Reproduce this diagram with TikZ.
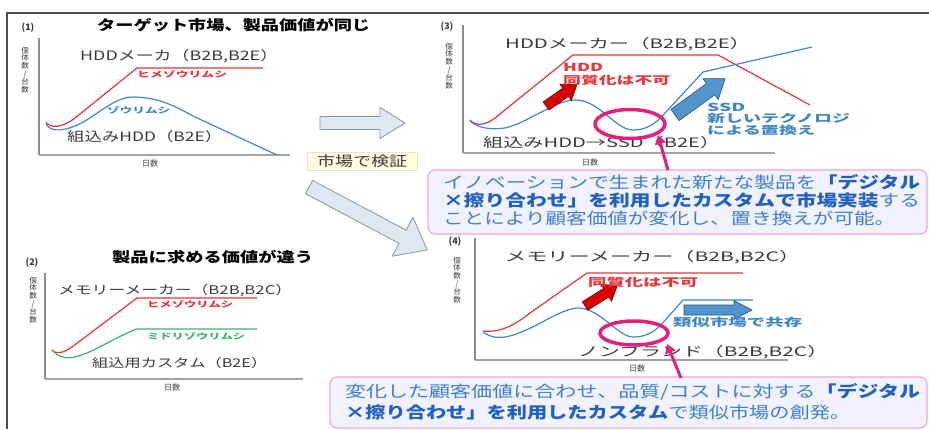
\documentclass[tikz,border=0pt]{standalone}
\usepackage{fontspec}
\setmainfont{Noto Sans CJK JP}
\usetikzlibrary{shapes.geometric,arrows.meta}
\definecolor{cred}{HTML}{E5353A}
\definecolor{cblue}{HTML}{3F88C8}
\definecolor{cgreen}{HTML}{3DB46E}
\definecolor{cpink}{HTML}{E6207A}
\definecolor{cpinkb}{HTML}{F2A8CB}
\definecolor{ctxt}{HTML}{3A3A3A}
\definecolor{caxis}{HTML}{8C8C8C}
\definecolor{cbtxt}{HTML}{3C7FD6}
\definecolor{cbbold}{HTML}{1E60C4}
\definecolor{cgarrow}{HTML}{DFE7F0}
\definecolor{cgarrowb}{HTML}{8995A2}
\newcommand{\fw}[2]{\resizebox{#1pt}{\height}{#2}}
\newcommand{\blockarr}[8]{%
\begin{scope}[shift={(#2,#3)},rotate=#4]
\draw[#1] (0,-#6) -- ({#5-#8},-#6) -- ({#5-#8},-#7) -- (#5,0) -- ({#5-#8},#7) -- ({#5-#8},#6) -- (0,#6) -- cycle;
\end{scope}}
\tikzset{
  lbl/.style={inner sep=0pt, anchor=west, text=ctxt, font=\fontsize{13}{14}\selectfont},
  ttl/.style={inner sep=0pt, anchor=west, text=black, font=\fontsize{14}{15}\selectfont\bfseries},
  num/.style={inner sep=0pt, text=ctxt, font=\fontsize{9}{10}\selectfont\bfseries},
  vl/.style={inner sep=0pt, text=ctxt, align=center, font=\fontsize{7.5}{7.6}\selectfont},
  days/.style={inner sep=0pt, text=ctxt, font=\fontsize{8}{9}\selectfont},
  small/.style={inner sep=0pt, anchor=west, font=\fontsize{8}{9}\selectfont\bfseries},
  mid/.style={inner sep=0pt, anchor=west, font=\fontsize{11}{12}\selectfont\bfseries},
  callt/.style={inner sep=0pt, anchor=west, text=cbtxt, font=\fontsize{16}{17}\selectfont},
  yaxis/.style={draw=caxis, line width=1.8pt},
  xaxis/.style={draw=caxis!80, line width=1.2pt},
  redc/.style={draw=cred, line width=1.2pt},
  bluec/.style={draw=cblue, line width=1.2pt},
  greenc/.style={draw=cgreen, line width=1.2pt},
  garr/.style={fill=cgarrow, draw=cgarrowb, line width=0.8pt},
  rarr/.style={fill=red!85!black, draw=red!45!black, line width=0.6pt},
  barr/.style={fill=cblue!90!white, draw=cblue!60!black, line width=0.6pt},
  ring/.style={ellipse, draw=cpink, line width=3.5pt, inner sep=0pt},
  parr/.style={draw=cpink, line width=3pt, -{Triangle[length=9pt,width=11pt]}},
  callbox/.style={draw=cpinkb, line width=1.2pt, fill=white!95!blue, rounded corners=7pt, inner sep=0pt}
}
\begin{document}
\begin{tikzpicture}[x=1pt,y=-1pt]
\useasboundingbox (0,0) rectangle (929,429);
% frame
\draw[draw=ctxt!90, line width=1.4pt] (7,429) -- (7,13) -- (929,13);

% ===== Panel (1)
\node[num] (n1) at (28,28) {(1)};
\node[ttl] (t1) at (97,25) {\fw{273}{ターゲット市場、製品価値が同じ}};
\node[vl] (v1) at (25,70) {個\\体\\数\\/\\台\\数};
\draw[yaxis] (39,38) -- (39,155);
\draw[xaxis] (39,155) -- (290,155);
\node[days] (d1) at (150,163) {日数};
\node[lbl] (h1) at (80,56) {\fw{198}{HDDメーカ（B2B,B2E）}};
\draw[redc] (46,122) .. controls (50,128) and (60,129) .. (75,118) -- (137,68) -- (263,68);
\draw[bluec] (46,124) .. controls (50,131) and (60,132) .. (75,126) .. controls (95,118) and (113,97) .. (133,97) .. controls (160,97) and (178,108) .. (195,117) -- (277,155);
\node[small, text=cred] (r1) at (137,74) {\fw{90}{ヒメゾウリムシ}};
\node[small, text=cblue] (b1) at (107,110) {\fw{63}{ゾウリムシ}};
\node[lbl] (e1) at (67,137) {\fw{155}{組込みHDD（B2E）}};

% arrow (1)->(3)
\blockarr{garr}{320}{123}{0}{85}{6.5}{15.5}{25}
\node[fill=yellow!12, draw=yellow!30!gray!30, line width=0.4pt, minimum width=110pt, minimum height=18pt, inner sep=0pt, text=ctxt, font=\fontsize{14}{15}\selectfont] (verify) at (362,161) {\fw{90}{市場で検証}};
% diagonal arrow
\blockarr{garr}{309}{187}{-28}{134}{7.5}{22}{28}

% ===== Panel (3)
\node[num] (n3) at (447,27) {(3)};
\node[vl] (v3) at (449,66) {個\\体\\数\\/\\台\\数};
\draw[yaxis] (463,25) -- (463,153);
\draw[xaxis] (463,153) -- (775,153);
\node[days] (d3) at (590,162) {日数};
\node[lbl] (h3) at (505,44) {\fw{245}{HDDメーカー（B2B,B2E）}};
\draw[redc] (470,120) .. controls (475,126) and (485,126) .. (495,118) -- (573,55) -- (718,55) -- (810,105);
\draw[bluec] (470,121) .. controls (478,128) and (490,130) .. (505,128) .. controls (530,122) and (555,100) .. (575,100) .. controls (600,100) and (615,130) .. (633,130) .. controls (645,130) and (655,125) .. (665,113) -- (703,72) -- (812,47);
\blockarr{rarr}{546}{106}{35}{38}{5}{10}{14}
\node[mid, text=cred] (hdd3) at (563,67) {\fw{40}{HDD}};
\node[mid, text=cred] (hom3) at (563,80) {\fw{107}{同質化は不可}};
\blockarr{barr}{675}{115}{36}{62}{7}{13}{18}
\node[mid, text=cblue] (ssd3) at (707,107) {\fw{38}{SSD}};
\node[mid, text=cblue] (nt3) at (707,118) {\fw{143}{新しいテクノロジ}};
\node[mid, text=cblue] (rp3) at (707,130) {\fw{108}{による置換え}};
\node[lbl] (e3) at (483,143) {\fw{237}{組込みHDD→SSD（B2E）}};
\node[ring, minimum width=70pt, minimum height=29pt] (ring3) at (630,124) {};

% callout 1
\node[callbox, minimum width=499pt, minimum height=64pt] (box1) at (677.5,202) {};
\node[callt] (c11) at (443,182) {\fw{477}{イノベーションで生まれた新たな製品を{\bfseries\color{cbbold}「デジタル}}};
\node[callt] (c12) at (443,200) {\fw{477}{{\bfseries\color{cbbold}×擦り合わせ」を利用したカスタムで市場実装}する}};
\node[callt] (c13) at (443,218) {\fw{452}{ことにより顧客価値が変化し、置き換えが可能。}};
\coordinate (s1) at (668,170);
\coordinate (t1tip) at (658,135);
\draw[parr] (s1) -- (t1tip);

% ===== Panel (2)
\node[num] (n2) at (32,263) {(2)};
\node[ttl] (t2) at (112,257) {\fw{201}{製品に求める価値が違う}};
\node[vl] (v2) at (33,300) {個\\体\\数\\/\\台\\数};
\draw[yaxis] (45,273) -- (45,379);
\draw[xaxis] (45,379) -- (303,379);
\node[days] (d2) at (172,387) {日数};
\node[lbl, font=\fontsize{12}{13}\selectfont] (h2) at (58,290) {\fw{234}{メモリーメーカー（B2B,B2C）}};
\draw[redc] (52,350) .. controls (55,354) and (62,354) .. (72,347) -- (137,298) -- (257,298);
\draw[greenc] (52,350) .. controls (58,357) and (66,359) .. (75,357) .. controls (95,352) and (115,337) .. (137,329) -- (257,329);
\node[small, text=cred] (r2) at (147,304) {\fw{86}{ヒメゾウリムシ}};
\node[small, text=cgreen] (g2) at (147,336) {\fw{98}{ミドリゾウリムシ}};
\node[lbl, font=\fontsize{12}{13}\selectfont] (e2) at (92,363) {\fw{175}{組込用カスタム（B2E）}};

% ===== Panel (4)
\node[num] (n4) at (455,242) {(4)};
\node[vl] (v4) at (457,280) {個\\体\\数\\/\\台\\数};
\draw[yaxis] (475,238) -- (475,360);
\draw[xaxis] (475,360) -- (788,360);
\node[days] (d4) at (637,368) {日数};
\node[lbl] (h4) at (505,257) {\fw{295}{メモリーメーカー（B2B,B2C）}};
\draw[redc] (483,331) .. controls (500,333) and (515,325) .. (530,313) -- (587,273) -- (743,273);
\draw[bluec] (483,332) .. controls (490,337) and (495,338) .. (505,337) .. controls (530,333) and (560,308) .. (578,308) .. controls (600,308) and (618,337) .. (633,337) .. controls (645,337) and (652,333) .. (660,326) -- (683,300) -- (753,300);
\blockarr{rarr}{585}{306}{32}{38}{5}{10}{13}
\node[mid, text=cred] (hom4) at (588,282) {\fw{110}{同質化は不可}};
\blockarr{barr}{684}{310}{0}{68}{5}{9.5}{18}
\node[mid, text=cblue] (sim4) at (673,322) {\fw{129}{類似市場で共存}};
\node[lbl] (e4) at (578,352) {\fw{250}{ノンブランド（B2B,B2C）}};
\node[ring, minimum width=68pt, minimum height=24pt] (ring4) at (634,333) {};

% callout 2
\node[callbox, minimum width=597pt, minimum height=51pt] (box2) at (628.5,402.5) {};
\node[callt] (c21) at (345,392) {\fw{575}{変化した顧客価値に合わせ、品質/コストに対する{\bfseries\color{cbbold}「デジタル}}};
\node[callt] (c22) at (345,412) {\fw{505}{{\bfseries\color{cbbold}×擦り合わせ」を利用したカスタム}で類似市場の創発。}};
\coordinate (s2) at (681,378);
\coordinate (t2tip) at (667,344);
\draw[parr] (s2) -- (t2tip);
\end{tikzpicture}
\end{document}
